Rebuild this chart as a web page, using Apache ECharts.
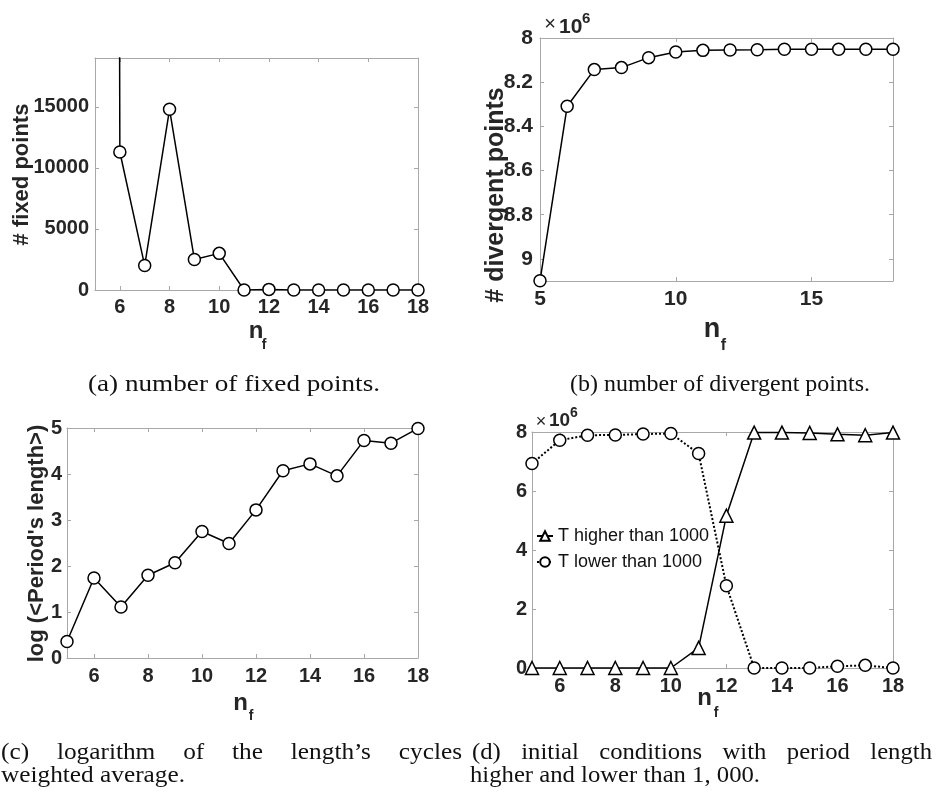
<!DOCTYPE html>
<html>
<head>
<meta charset="utf-8">
<script src="https://cdn.jsdelivr.net/npm/echarts@6/dist/echarts.min.js"></script>
<style>
  html, body { margin: 0; padding: 0; background: #fff; }
  #chart { width: 940px; height: 798px; }
</style>
</head>
<body>
<div id="chart"></div>
<script>
// n_f values shared by all four panels
const nf = [5, 6, 7, 8, 9, 10, 11, 12, 13, 14, 15, 16, 17, 18];

// (a) number of fixed points (value at n_f = 5 is far off the top of the axis)
const fixedPoints = [900000, 11300, 2000, 14800, 2500, 3000, 0, 50, 0, 0, 0, 0, 0, 0];
// (b) number of divergent points, x 10^6
const divergentPoints = [9.099, 8.309, 8.143, 8.134, 8.089, 8.063, 8.056, 8.054, 8.053, 8.051, 8.051, 8.051, 8.051, 8.051];
// (c) log of weighted average period length
const logPeriod = [0.36, 1.74, 1.11, 1.80, 2.07, 2.75, 2.49, 3.22, 4.07, 4.22, 3.96, 4.73, 4.67, 4.99];
// (d) initial conditions with period higher / lower than 1000, x 10^6
const higherThan1000 = [0, 0, 0, 0, 0, 0, 0.68, 5.16, 7.98, 7.98, 7.97, 7.92, 7.89, 7.98];
const lowerThan1000 = [6.93, 7.72, 7.89, 7.90, 7.93, 7.95, 7.27, 2.79, 0, 0, 0, 0.06, 0.09, 0];

// tick labels
const xTicksEven = [6, 8, 10, 12, 14, 16, 18];
const xTicksFive = [5, 10, 15];
const yTicksA = [0, 5000, 10000, 15000];
const yTicksB = [8, 8.2, 8.4, 8.6, 8.8, 9];
const yTicksC = [0, 1, 2, 3, 4, 5];
const yTicksD = [0, 2, 4, 6, 8];

const legendNames = ['T higher than 1000', 'T lower than 1000'];

const SANS = '"Liberation Sans", Arial, sans-serif';
const SERIF = '"Liberation Serif", "Times New Roman", serif';
const AXIS_GRAY = '#a8a8a8';
const LABEL = '#262626';

function pairs(ys) { return nf.map((x, i) => [x, ys[i]]); }

function xAxes(gi, min, max, ticks, margin, fs) {
  const base = {
    type: 'value', gridIndex: gi, min: min, max: max,
    splitLine: { show: false },
    axisLine: { onZero: false, lineStyle: { color: AXIS_GRAY, width: 1 } },
    axisTick: { inside: true, length: 4, customValues: ticks, lineStyle: { color: AXIS_GRAY } }
  };
  return [
    Object.assign({}, base, { position: 'bottom', axisLabel: {
      customValues: ticks, margin: margin, fontSize: fs, fontWeight: 'bold',
      fontFamily: SANS, color: LABEL, formatter: v => String(v) } }),
    Object.assign({}, base, { position: 'top', axisLabel: { show: false } })
  ];
}

function yAxes(gi, min, max, ticks, margin, fs, inverse) {
  const base = {
    type: 'value', gridIndex: gi, min: min, max: max, inverse: !!inverse,
    splitLine: { show: false },
    axisLine: { onZero: false, lineStyle: { color: AXIS_GRAY, width: 1 } },
    axisTick: { inside: true, length: 4, customValues: ticks, lineStyle: { color: AXIS_GRAY } }
  };
  return [
    Object.assign({}, base, { position: 'left', axisLabel: {
      customValues: ticks, margin: margin, fontSize: fs, fontWeight: 'bold',
      fontFamily: SANS, color: LABEL, formatter: v => String(+v.toFixed(4)) } }),
    Object.assign({}, base, { position: 'right', axisLabel: { show: false } })
  ];
}

function lineSeries(ax, ys, extra) {
  return Object.assign({
    type: 'line', xAxisIndex: ax, yAxisIndex: ax, data: pairs(ys),
    symbol: 'circle', symbolSize: 12, showAllSymbol: true,
    itemStyle: { color: '#fff', borderColor: '#000', borderWidth: 1.5 },
    lineStyle: { color: '#000', width: 1.5 },
    clip: false, animation: false
  }, extra || {});
}

// plain text helpers
function txt(str, x, y, fs, opts) {
  opts = opts || {};
  return {
    type: 'text', x: x, y: y, rotation: opts.rotation || 0, z: 100,
    style: {
      text: str, fontSize: fs, fontFamily: opts.family || SANS,
      fontWeight: opts.weight || 'bold', fill: opts.fill || LABEL,
      align: opts.align || 'center', verticalAlign: 'middle'
    }
  };
}

// captions are drawn in a serif face, scaled to the reference widths;
// the first line of (c) and (d) is justified like LaTeX does
const measureCtx = document.createElement('canvas').getContext('2d');
const CAP_FS = 24;
function textWidth(str) {
  measureCtx.font = CAP_FS + 'px ' + SERIF;
  return measureCtx.measureText(str).width;
}
function capText(str, left, baseline, sx) {
  return {
    type: 'text', x: left, y: baseline - 0.3 * CAP_FS, scaleX: sx, z: 100,
    style: { text: str, fontSize: CAP_FS, fontFamily: SERIF, fill: '#111', align: 'left', verticalAlign: 'middle' }
  };
}
function capLine(str, left, right, baseline) {
  return [capText(str, left, baseline, (right - left) / textWidth(str))];
}
function capJustified(str, left, right, baseline, sx) {
  const words = str.split(' ');
  const widths = words.map(w => textWidth(w) * sx);
  const gap = (right - left - widths.reduce((a, b) => a + b, 0)) / (words.length - 1);
  let x = left;
  return words.map((w, i) => { const el = capText(w, x, baseline, sx); x += widths[i] + gap; return el; });
}

const capC2 = 'weighted average.';
const capD2 = 'higher and lower than 1, 000.';
const scaleC = 184 / textWidth(capC2);
const scaleD = 290 / textWidth(capD2);

const captions = [].concat(
  capLine('(a) number of fixed points.', 88, 380, 392),
  capLine('(b) number of divergent points.', 570, 870, 392),
  capJustified('(c) logarithm of the length\u2019s cycles', 1, 462, 760, scaleC),
  capText(capC2, 1, 783, scaleC),
  capJustified('(d) initial conditions with period length', 472, 932, 760, scaleD),
  capText(capD2, 470, 783, scaleD)
);

const graphics = [
  txt('# fixed points', 22, 174.5, 22, { rotation: Math.PI / 2 }),
  txt('# divergent points', 496, 195, 25, { rotation: Math.PI / 2 }),
  txt('log (<Period\'s length>)', 37, 543.5, 22, { rotation: Math.PI / 2 }),
  // n_f axis titles
  txt('n', 256, 331.5, 24), txt('f', 264, 345, 14),
  txt('n', 712, 329.5, 27), txt('f', 723.5, 346, 16),
  txt('n', 240.5, 703, 24), txt('f', 251, 716, 14),
  txt('n', 704.5, 698.5, 24), txt('f', 716, 713, 14),
  // x10^6 exponent markers
  txt('\u00d7', 550, 24, 20, { weight: 'normal' }), txt('10', 559, 27.5, 21, { align: 'left' }), txt('6', 582, 19, 15, { align: 'left' }),
  txt('\u00d7', 541, 422, 18, { weight: 'normal' }), txt('10', 549, 421, 19, { align: 'left' }), txt('6', 570, 413, 14, { align: 'left' })
].concat(captions);

const chart = echarts.init(document.getElementById('chart'), null, { renderer: 'canvas' });
chart.setOption({
  animation: false,
  backgroundColor: '#fff',
  grid: [
    { left: 95, top: 58, width: 323, height: 232 },
    { left: 540, top: 38, width: 353, height: 243 },
    { left: 67, top: 428, width: 351, height: 230 },
    { left: 532, top: 432, width: 361, height: 236 }
  ],
  xAxis: [].concat(
    xAxes(0, 5, 18, xTicksEven, 7, 20),
    xAxes(1, 5, 18, xTicksFive, 8, 21),
    xAxes(2, 5, 18, xTicksEven, 8, 20),
    xAxes(3, 5, 18, xTicksEven, 8, 20)
  ),
  yAxis: [].concat(
    yAxes(0, 0, 19000, yTicksA, 6, 20),
    yAxes(1, 8, 9.1, yTicksB, 7, 21, true),
    yAxes(2, 0, 5, yTicksC, 5, 20),
    yAxes(3, 0, 8, yTicksD, 5, 20)
  ),
  legend: {
    data: legendNames, orient: 'vertical', left: 536, top: 527, padding: 0,
    itemWidth: 16, itemHeight: 12, itemGap: 8,
    textStyle: { fontFamily: SANS, fontSize: 18, color: '#111' }
  },
  series: [
    lineSeries(0, fixedPoints, { clip: true }),
    lineSeries(2, divergentPoints),
    lineSeries(4, logPeriod),
    lineSeries(6, lowerThan1000, { name: legendNames[1], lineStyle: { color: '#000', width: 2, type: 'dotted' } }),
    lineSeries(6, higherThan1000, { name: legendNames[0], symbol: 'triangle', symbolSize: 13 })
  ],
  graphic: graphics
});
</script>
</body>
</html>
